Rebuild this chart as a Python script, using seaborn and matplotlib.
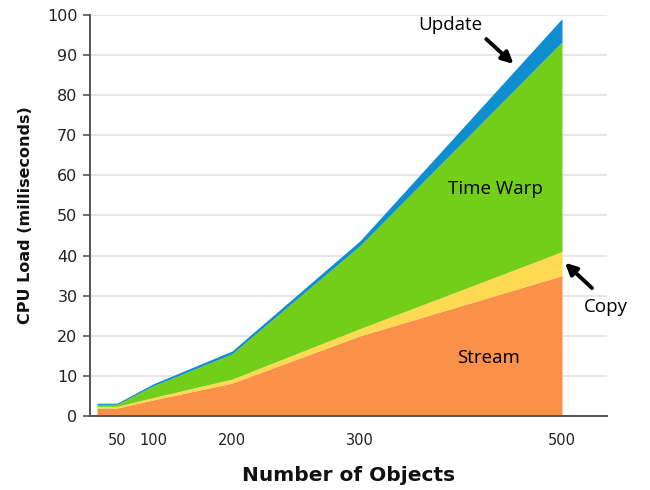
import numpy as np
import pandas as pd
import matplotlib
matplotlib.use("Agg")
import matplotlib.pyplot as plt
import seaborn as sns

# Number of simulated objects and per-stage CPU cost (ms), stacked bottom to top
objects = [25, 50, 100, 200, 300, 500]
stream = [2.0, 2.0, 4.0, 8.2, 20.0, 35.0]
copy = [0.4, 0.4, 0.6, 1.0, 1.8, 6.0]
time_warp = [0.5, 0.5, 2.9, 6.3, 20.7, 52.3]
update = [0.3, 0.3, 0.5, 0.7, 1.2, 5.8]

series_names = ["Stream", "Copy", "Time Warp", "Update"]
series_colors = ["#FA914B", "#FDDA52", "#73CE1A", "#0E8DCF"]

x_ticks = [50, 100, 200, 300, 500]
y_ticks = list(range(0, 101, 10))

# Uneven horizontal spacing of the object-count axis (count -> axis units)
axis_counts = [16.25, 25, 50, 100, 200, 300, 500, 545]
axis_units = [0, 7, 27, 63, 142, 270, 472, 517]

df = pd.DataFrame({"objects": objects, "Stream": stream, "Copy": copy,
                   "Time Warp": time_warp, "Update": update})

sns.set_theme(style="white")
plt.rcParams["font.family"] = ["DejaVu Sans"]

fig = plt.figure(figsize=(6.5, 4.9), dpi=100)
ax = fig.add_axes([90 / 650, 74 / 490, 517 / 650, 401 / 490])


def fwd(v):
    return np.interp(v, axis_counts, axis_units)


def inv(v):
    return np.interp(v, axis_units, axis_counts)


ax.set_xscale("function", functions=(fwd, inv))

ax.stackplot(df["objects"], *[df[n] for n in series_names],
             colors=series_colors, linewidth=0, zorder=2)

ax.set_xlim(axis_counts[0], axis_counts[-1])
ax.set_ylim(0, 100)
ax.set_yticks(y_ticks)
ax.set_xticks(x_ticks)
ax.set_xticklabels([str(t) for t in x_ticks])
ax.xaxis.set_minor_locator(matplotlib.ticker.NullLocator())

ax.grid(axis="y", color="#e3e3e3", linewidth=1.2, zorder=0)
ax.grid(axis="x", visible=False)
sns.despine(ax=ax)
for side in ("left", "bottom"):
    ax.spines[side].set_color("#555555")
    ax.spines[side].set_linewidth(1.4)
    ax.spines[side].set_zorder(3)

ax.tick_params(axis="y", length=5, width=1.2, color="#555555", pad=4,
               labelsize=11.5, labelcolor="#222222", left=True)
ax.tick_params(axis="x", length=0, pad=12, labelsize=10.5, labelcolor="#222222")

ax.set_ylabel("CPU Load (milliseconds)", fontsize=11.5, fontweight="bold",
              color="#111111", labelpad=10)
ax.set_xlabel("Number of Objects", fontsize=14.5, fontweight="bold",
              color="#111111", labelpad=13)

label_font = dict(fontsize=13.5, family=["Open Sans", "DejaVu Sans"], color="black")
arrow_style = dict(arrowstyle="-|>", color="black", lw=2.8,
                   mutation_scale=17, shrinkA=0, shrinkB=0)

ax.text(434, 56.5, "Time Warp", ha="center", va="center", **label_font)
ax.text(427, 14.5, "Stream", ha="center", va="center", **label_font)

ax.text(389, 97.6, "Update", ha="center", va="center", **label_font)
ax.annotate("", xy=(452, 87.8), xytext=(425, 94.0), arrowprops=arrow_style)

ax.text(544, 27.2, "Copy", ha="center", va="center", clip_on=False, **label_font)
ax.annotate("", xy=(503, 38.2), xytext=(530, 31.9), arrowprops=arrow_style)

fig.savefig("out.png", dpi=100)
